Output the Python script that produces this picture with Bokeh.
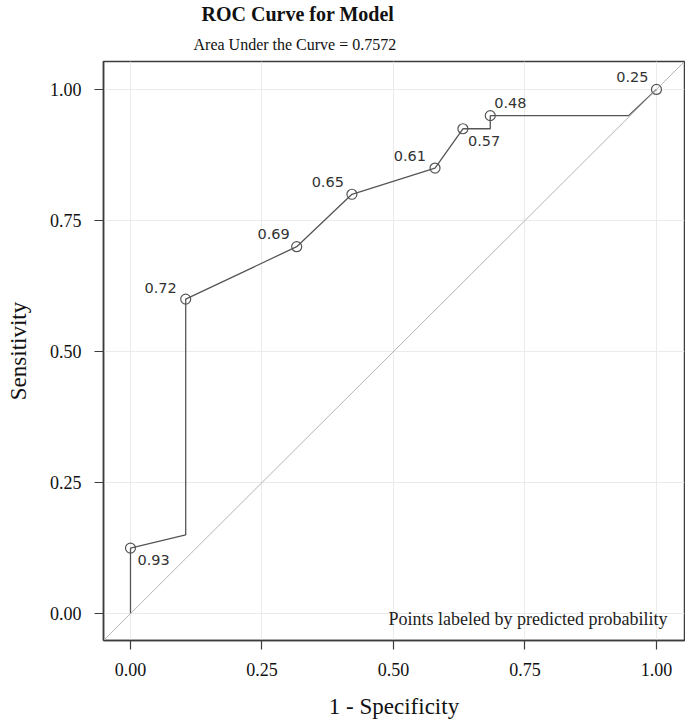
from bokeh.plotting import figure
from bokeh.models import (FixedTicker, PrintfTickFormatter, Title, Label, Range1d,
                          ColumnDataSource, Slope)
from bokeh.embed import file_html
from bokeh.resources import INLINE

# ---- data ----
curve_fpr = [0.0, 0.0, 0.105, 0.105, 0.316, 0.421, 0.579, 0.632, 0.684, 0.684, 0.947, 1.0]
curve_tpr = [0.0, 0.125, 0.150, 0.600, 0.700, 0.800, 0.850, 0.925, 0.925, 0.950, 0.950, 1.0]

point_fpr = [0.0, 0.105, 0.316, 0.421, 0.579, 0.632, 0.684, 1.0]
point_tpr = [0.125, 0.600, 0.700, 0.800, 0.850, 0.925, 0.950, 1.0]
point_labels = ["0.93", "0.72", "0.69", "0.65", "0.61", "0.57", "0.48", "0.25"]

ticks = [0.0, 0.25, 0.5, 0.75, 1.0]
title_text = "ROC Curve for Model"
subtitle_text = "Area Under the Curve = 0.7572"
note_text = "Points labeled by predicted probability"
x_label = "1 - Specificity"
y_label = "Sensitivity"

# ---- label placement styling (pixels) ----
label_align = ["left", "right", "right", "right", "right", "left", "left", "right"]
label_dx = [7, -9, -7, -8, -9, 5, 4, -8]
label_dy = [12, -11, -13, -12, -12, 12, -13, -12]

SERIF = "Liberation Serif"
DARK = "#3c3c3c"
LINE = "#555555"

p = figure(width=685, height=725, output_backend="svg", toolbar_location=None,
           x_range=Range1d(-0.0513, 1.0533), y_range=Range1d(-0.0513, 1.0533),
           min_border_left=103, min_border_right=1, min_border_top=61, min_border_bottom=85,
           title=None)

p.background_fill_color = "white"
p.border_fill_color = "white"
p.outline_line_color = DARK
p.outline_line_width = 1.5

# titles (subtitle first so it sits nearest the frame)
sub = Title(text=subtitle_text, align="left", offset=90, text_font=SERIF,
            text_font_size="16px", text_font_style="normal", text_color="#111111",
            standoff=18)
main = Title(text=title_text, align="left", offset=98, text_font=SERIF,
             text_font_size="20px", text_font_style="bold", text_color="#111111",
             standoff=0)
p.add_layout(sub, "above")
p.add_layout(main, "above")

# grid
for g in (p.xgrid, p.ygrid):
    g.ticker = FixedTicker(ticks=ticks)
    g.grid_line_color = "#ebebeb"
    g.grid_line_width = 1

# axes
for ax in (p.xaxis, p.yaxis):
    ax.ticker = FixedTicker(ticks=ticks)
    ax.formatter = PrintfTickFormatter(format="%.2f")
    ax.major_tick_in = 0
    ax.major_tick_out = 9
    ax.minor_tick_line_color = None
    ax.axis_line_color = DARK
    ax.axis_line_width = 1.5
    ax.major_tick_line_color = DARK
    ax.major_tick_line_width = 1.2
    ax.major_label_text_font = SERIF
    ax.major_label_text_font_size = "18px"
    ax.major_label_text_color = "#111111"
    ax.axis_label_text_font = SERIF
    ax.axis_label_text_font_size = "23px"
    ax.axis_label_text_font_style = "normal"
    ax.axis_label_text_color = "#111111"

p.xaxis.major_label_standoff = 13
p.xaxis.axis_label_standoff = 15
p.yaxis.major_label_standoff = 13
p.yaxis.axis_label_standoff = 16

p.xaxis.axis_label = x_label
p.yaxis.axis_label = y_label

# chance diagonal
p.add_layout(Slope(gradient=1, y_intercept=0, line_color="#b4b4b4", line_width=1))

# ROC curve
p.line(curve_fpr, curve_tpr, line_color=LINE, line_width=1.3)

src = ColumnDataSource(dict(x=point_fpr, y=point_tpr, lab=point_labels,
                            align=label_align, dx=label_dx, dy=label_dy))
p.scatter("x", "y", source=src, marker="circle", size=10, fill_color=None,
          line_color=LINE, line_width=1.2)
p.text("x", "y", text="lab", source=src, text_align="align", text_baseline="middle",
       x_offset="dx", y_offset="dy", text_font_size="14.5px",
       text_color="#333333", text_font={"value": "DejaVu Sans"})

note = Label(x=1.021, y=-0.011, text=note_text, text_align="right",
             text_baseline="middle", text_font=SERIF, text_font_size="18px",
             text_color="#222222")
p.add_layout(note)

open("out.html", "w").write(file_html(p, INLINE))
